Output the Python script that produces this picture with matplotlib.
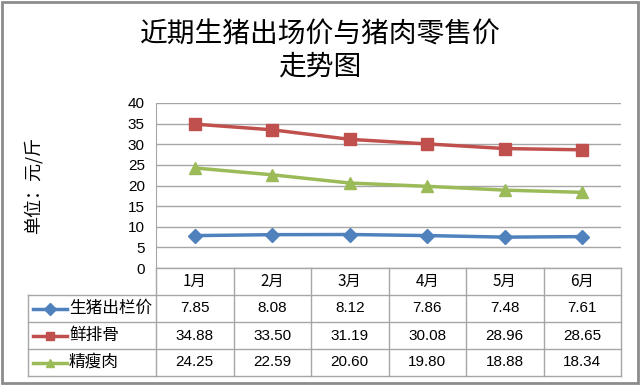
import matplotlib.pyplot as plt
from matplotlib.lines import Line2D
from matplotlib.patches import Rectangle

plt.rcParams['font.family'] = ['Noto Sans CJK SC', 'DejaVu Sans']

# 数据
months = ['1月', '2月', '3月', '4月', '5月', '6月']
series_names = ['生猪出栏价', '鲜排骨', '精瘦肉']
pig_price = [7.85, 8.08, 8.12, 7.86, 7.48, 7.61]
ribs_price = [34.88, 33.50, 31.19, 30.08, 28.96, 28.65]
lean_price = [24.25, 22.59, 20.60, 19.80, 18.88, 18.34]

colors = ['#4F81BD', '#C0504D', '#9BBB59']
markers = ['D', 's', '^']
msizes = [7, 9, 9]
all_values = [pig_price, ribs_price, lean_price]

W, H = 640, 386
fig = plt.figure(figsize=(W / 100, H / 100), dpi=100)

def fx(px):
    return px / W

def fy(py):
    return 1 - py / H

# 外框
fig.patches.append(Rectangle((fx(1.5), fy(383)), fx(636), 381 / H, transform=fig.transFigure,
                             fill=False, edgecolor='#8c8c8c', linewidth=2))

# 标题
fig.text(0.5, fy(35), '近期生猪出场价与猪肉零售价', ha='center', va='center', fontsize=20)
fig.text(0.5, fy(67), '走势图', ha='center', va='center', fontsize=20)

# 绘图区
left, right, top, bottom = 156, 621, 103, 268
ax = fig.add_axes([fx(left), fy(bottom), fx(right - left), (bottom - top) / H])
x = list(range(len(months)))
for vals, c, m, ms in zip(all_values, colors, markers, msizes):
    ax.plot(x, vals, color=c, marker=m, markersize=ms, linewidth=2.5, zorder=3)
ax.set_xlim(-0.5, len(months) - 0.5)
ax.set_ylim(0, 40)
ax.set_yticks(range(0, 41, 5))
ax.set_xticks([])
ax.grid(axis='y', color='#a6a6a6', linewidth=1)
for s in ['top', 'right', 'bottom']:
    ax.spines[s].set_visible(False)
ax.spines['left'].set_color('#a6a6a6')
ax.tick_params(axis='y', length=0, labelsize=11, pad=8)
for lab in ax.get_yticklabels():
    lab.set_family(['Liberation Sans', 'DejaVu Sans'])
ax.set_ylabel('单位：元/斤', fontsize=13)
ax.yaxis.set_label_coords(-0.245, 0.5)

# 数据表
row_lines = [268, 295, 322, 349, 376]
tab_left = 28
col_w = (right - left) / len(months)
lc = '#a6a6a6'
fig.add_artist(Line2D([fx(left), fx(right)], [fy(268), fy(268)], color=lc, lw=1))
for yy in row_lines[1:]:
    fig.add_artist(Line2D([fx(tab_left), fx(right)], [fy(yy), fy(yy)], color=lc, lw=1))
fig.add_artist(Line2D([fx(tab_left), fx(tab_left)], [fy(295), fy(376)], color=lc, lw=1))
fig.add_artist(Line2D([fx(left), fx(left)], [fy(268), fy(376)], color=lc, lw=1))
for i in range(1, len(months) + 1):
    xx = left + i * col_w
    fig.add_artist(Line2D([fx(xx), fx(xx)], [fy(268), fy(376)], color=lc, lw=1))

for i, m in enumerate(months):
    fig.text(fx(left + (i + 0.5) * col_w), fy(281.5), m, ha='center', va='center', fontsize=11)

for r, (name, vals, c, mk) in enumerate(zip(series_names, all_values, colors, markers)):
    yc = (row_lines[r + 1] + row_lines[r + 2]) / 2
    fig.add_artist(Line2D([fx(33), fx(50), fx(67)], [fy(yc)] * 3, color=c, lw=2.5,
                          marker=mk, markersize=6, markevery=[1]))
    fig.text(fx(69), fy(yc), name, ha='left', va='center', fontsize=12)
    for i, v in enumerate(vals):
        fig.text(fx(left + (i + 0.5) * col_w), fy(yc), f'{v:.2f}', ha='center', va='center',
                 fontsize=11, family=['Liberation Sans', 'DejaVu Sans'])

fig.savefig('out.png', dpi=100)
